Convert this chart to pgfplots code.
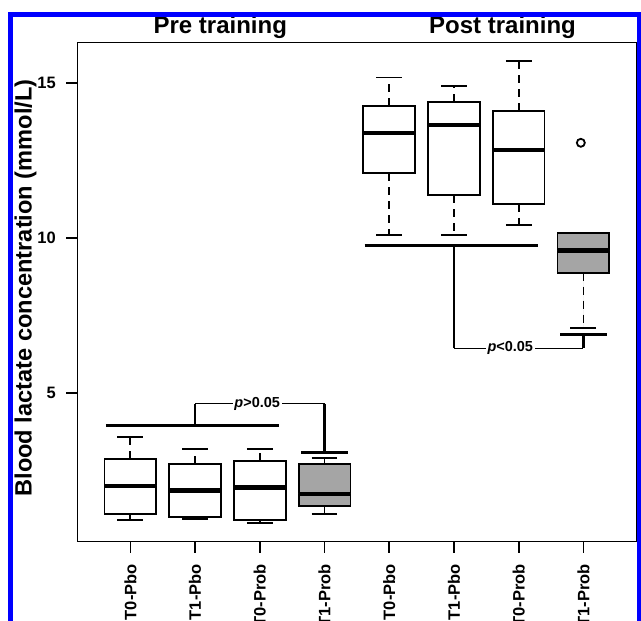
\documentclass[border=0pt]{standalone}
\usepackage{pgfplots}
\pgfplotsset{compat=1.18}
\usepgfplotslibrary{statistics}
\usepackage{fontspec}
\setmainfont{Liberation Sans}
\definecolor{boxgray}{RGB}{165,165,165}

% R-style box: dashed whisker, solid staple
\pgfplotsset{
  rbox/.style={
    black, line width=1.8pt, mark=none,
    boxplot/draw direction=y,
    boxplot/box extend=0.8,
    boxplot/whisker extend=0.4,
    boxplot/every median/.style={line width=4.5pt},
    boxplot/draw/lower whisker/.code={
      \draw[line width=1.8pt, dash pattern=on 8pt off 6pt]
        (boxplot box cs:\pgfplotsboxplotvalue{lower quartile},0.5) --
        (boxplot box cs:\pgfplotsboxplotvalue{lower whisker},0.5);
      \draw[line width=1.8pt, solid]
        (boxplot whisker cs:\pgfplotsboxplotvalue{lower whisker},0) --
        (boxplot whisker cs:\pgfplotsboxplotvalue{lower whisker},1);
    },
    boxplot/draw/upper whisker/.code={
      \draw[line width=1.8pt, dash pattern=on 8pt off 6pt]
        (boxplot box cs:\pgfplotsboxplotvalue{upper quartile},0.5) --
        (boxplot box cs:\pgfplotsboxplotvalue{upper whisker},0.5);
      \draw[line width=1.8pt, solid]
        (boxplot whisker cs:\pgfplotsboxplotvalue{upper whisker},0) --
        (boxplot whisker cs:\pgfplotsboxplotvalue{upper whisker},1);
    },
  },
}
\tikzset{pnote/.style={fill=white, inner sep=1.5pt, font=\fontsize{14.5}{14.5}\selectfont\bfseries}}

\begin{document}
\begin{tikzpicture}
\begin{axis}[
    at={(77.3pt,79.3pt)}, anchor=south west,
    scale only axis,
    width=559.2pt, height=499pt,
    xmin=0.18, xmax=8.82,
    ymin=0.21, ymax=16.31,
    clip=false,
    axis line style={line width=1.6pt},
    tick pos=left,
    tick align=outside,
    major tick length=11pt,
    every tick/.style={black, line width=1.6pt},
    xtick={1,2,3,4,5,6,7,8},
    xticklabels={T0-Pbo,T1-Pbo,T0-Prob,T1-Prob,T0-Pbo,T1-Pbo,T0-Prob,T1-Prob},
    ytick={5,10,15},
    yticklabels={5,10,15},
    x tick label style={rotate=90, anchor=east, xshift=-8pt, font=\fontsize{16.5}{16.5}\selectfont\bfseries},
    y tick label style={xshift=-7pt, font=\fontsize{16.5}{16.5}\selectfont\bfseries},
]

% pre training
\addplot[rbox, fill=white, boxplot prepared={draw position=1,
  lower whisker=0.90, lower quartile=1.10, median=2.01, upper quartile=2.89, upper whisker=3.59}] coordinates {};
\addplot[rbox, fill=white, boxplot prepared={draw position=2,
  lower whisker=0.94, lower quartile=1.00, median=1.86, upper quartile=2.71, upper whisker=3.19}] coordinates {};
\addplot[rbox, fill=white, boxplot prepared={draw position=3,
  lower whisker=0.81, lower quartile=0.91, median=1.96, upper quartile=2.82, upper whisker=3.19}] coordinates {};
\addplot[rbox, fill=boxgray, boxplot prepared={draw position=4,
  lower whisker=1.10, lower quartile=1.37, median=1.75, upper quartile=2.71, upper whisker=2.90}] coordinates {};

% post training
\addplot[rbox, fill=white, boxplot prepared={draw position=5,
  lower whisker=10.11, lower quartile=12.10, median=13.39, upper quartile=14.28, upper whisker=15.19}] coordinates {};
\addplot[rbox, fill=white, boxplot prepared={draw position=6,
  lower whisker=10.11, lower quartile=11.39, median=13.65, upper quartile=14.40, upper whisker=14.91}] coordinates {};
\addplot[rbox, fill=white, boxplot prepared={draw position=7,
  lower whisker=10.43, lower quartile=11.11, median=12.85, upper quartile=14.11, upper whisker=15.72}] coordinates {};
\addplot[rbox, fill=boxgray, boxplot prepared={draw position=8,
  lower whisker=7.10, lower quartile=8.89, median=9.60, upper quartile=10.18, upper whisker=10.18}] coordinates {};

% outlier
\addplot[only marks, mark=o, mark size=4pt, line width=1.8pt, black] coordinates {(7.96,13.08)};

% comparison brackets, pre
\addplot[black, line width=3pt] coordinates {(0.62,3.95) (3.30,3.95)};
\addplot[black, line width=2.4pt] coordinates {(2,3.95) (2,4.66)};
\addplot[black, line width=1.3pt] coordinates {(2,4.66) (4,4.66)};
\addplot[black, line width=2.4pt] coordinates {(4,4.66) (4,3.08)};
\addplot[black, line width=3pt] coordinates {(3.64,3.08) (4.36,3.08)};
\node[pnote] at (axis cs:2.96,4.66) {\textit{p}>0.05};

% comparison brackets, post
\addplot[black, line width=3pt] coordinates {(4.62,9.78) (7.30,9.78)};
\addplot[black, line width=2.4pt] coordinates {(6,9.78) (6,6.45)};
\addplot[black, line width=1.3pt] coordinates {(6,6.45) (8,6.45)};
\addplot[black, line width=2.4pt] coordinates {(8,6.45) (8,6.88)};
\addplot[black, line width=3pt] coordinates {(7.64,6.88) (8.36,6.88)};
\node[pnote] at (axis cs:6.87,6.45) {\textit{p}<0.05};

\node[anchor=base, font=\fontsize{24}{24}\selectfont\bfseries] at (axis cs:2.39,16.61) {Pre training};
\node[anchor=base, font=\fontsize{24}{24}\selectfont\bfseries] at (axis cs:6.75,16.61) {Post training};
\end{axis}

\node[rotate=90, anchor=base, font=\fontsize{23.6}{23.6}\selectfont\bfseries] at (31.7pt,333pt) {Blood lactate concentration (mmol/L)};

\draw[blue, line width=5pt] (10.8pt,-20pt) -- (10.8pt,606.8pt) -- (639.5pt,606.8pt) -- (639.5pt,-20pt);

\pgfresetboundingbox
\useasboundingbox (0pt,0pt) rectangle (641pt,621pt);
\end{tikzpicture}
\end{document}
